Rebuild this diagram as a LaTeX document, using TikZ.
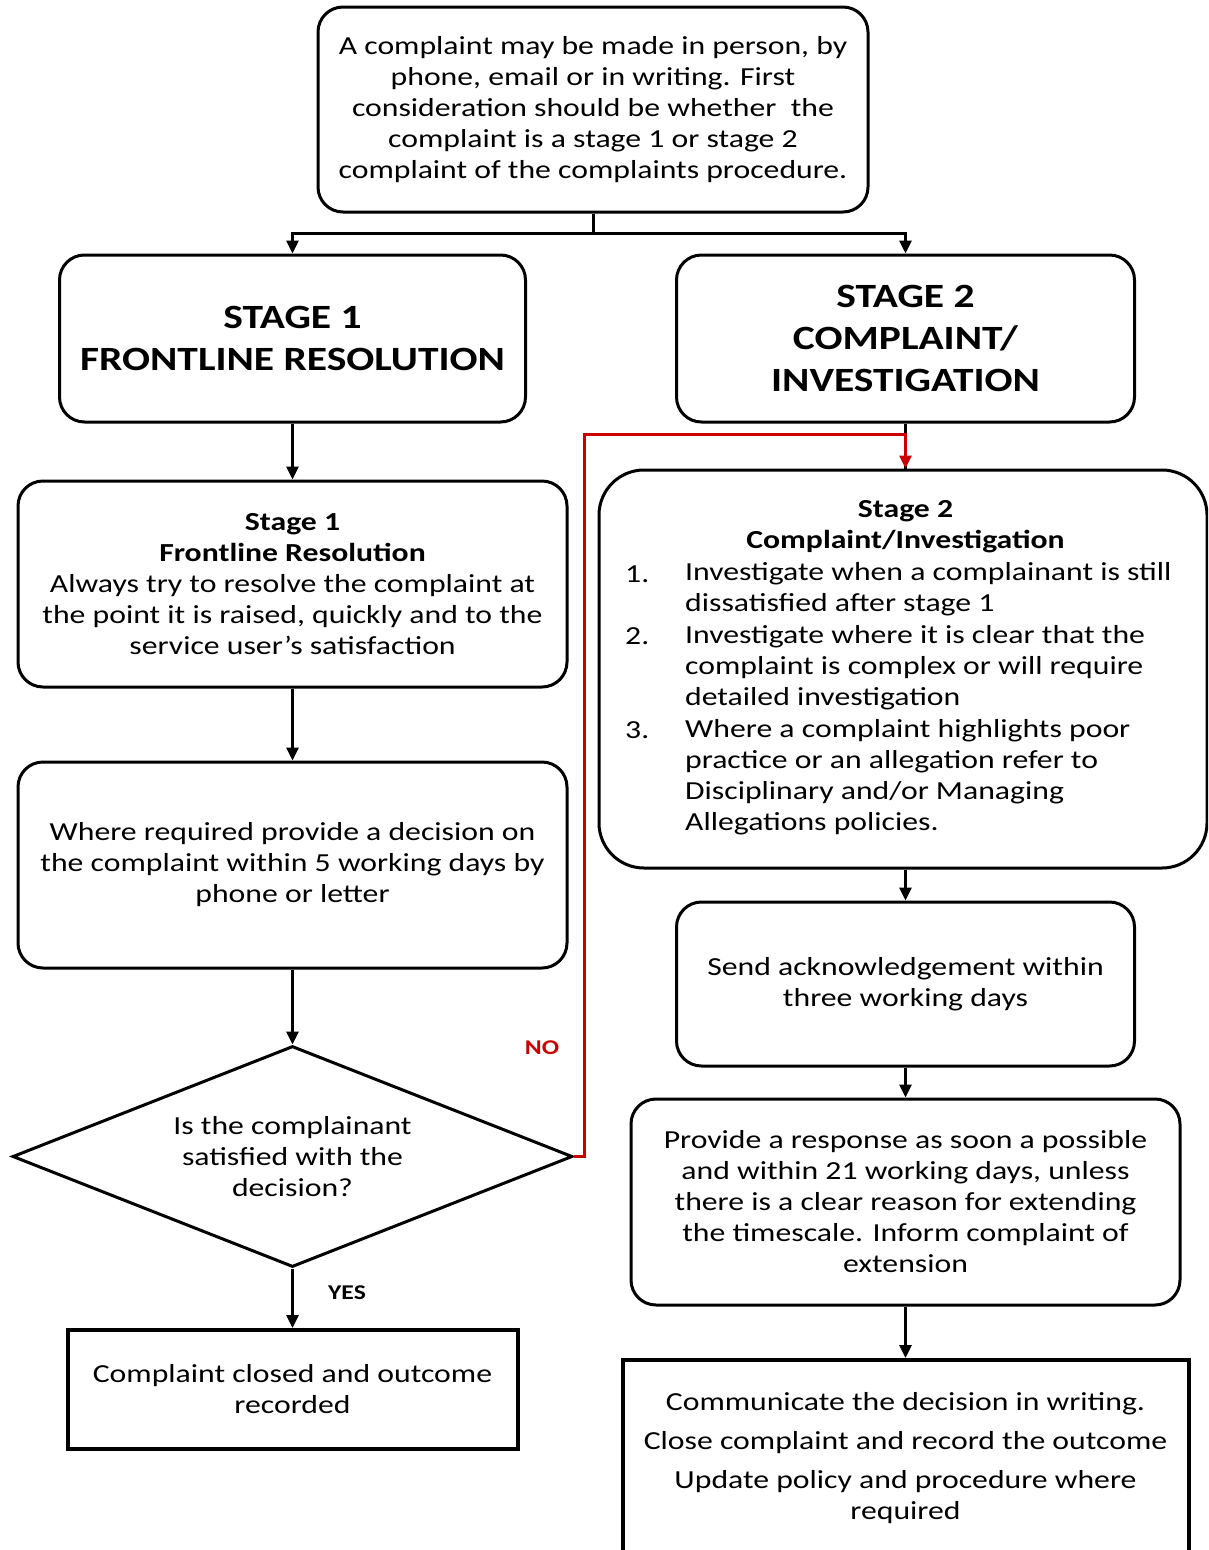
\documentclass[tikz,border=0pt]{standalone}
\usepackage{fontspec}
\setmainfont{Carlito}[FakeStretch=1.22]
\usetikzlibrary{arrows.meta,shapes.geometric}
\definecolor{noRed}{RGB}{204,0,0}
\begin{document}
\begin{tikzpicture}[x=1pt,y=-1pt,
  box/.style={draw,line width=3pt,rounded corners=25pt,inner sep=0pt,align=center},
  sqbox/.style={draw,line width=4pt,inner sep=0pt,align=center},
  txt/.style={font=\fontsize{26}{31}\selectfont},
  btxt/.style={font=\fontsize{26}{31}\selectfont\bfseries},
  ttl/.style={font=\fontsize{34}{42}\selectfont\bfseries},
  tip/.tip={Triangle[length=13pt,width=12pt]},
  arr/.style={line width=3pt,-tip},
  ln/.style={line width=3pt},
  redarr/.style={line width=3pt,draw=noRed,-tip},
  lbl/.style={font=\fontsize{21}{24}\selectfont\bfseries,inner sep=0pt}
]
\clip (0,0) rectangle (1208,1550);
\fill[white] (0,0) rectangle (1208,1550);

% top
\node[box,txt,minimum width=550pt,minimum height=205pt] (top) at (593,109.5)
 {A complaint may be made in person, by\\ phone, email or in writing. First\\ consideration should be whether\ \ the\\ complaint is a stage 1 or stage 2\\ complaint of the complaints procedure.};

% stage boxes
\node[box,ttl,minimum width=466pt,minimum height=167pt] (s1) at (292.5,338.5)
 {STAGE 1\\FRONTLINE RESOLUTION};
\node[box,ttl,minimum width=458pt,minimum height=167pt] (s2) at (905.5,338.5)
 {STAGE 2\\COMPLAINT/\\INVESTIGATION};

% left column
\node[box,txt,minimum width=549pt,minimum height=206pt] (l1) at (292.5,584)
 {\textbf{Stage 1}\\\textbf{Frontline Resolution}\\Always try to resolve the complaint at\\the point it is raised, quickly and to the\\service user’s satisfaction};
\node[box,txt,minimum width=549pt,minimum height=206pt] (l2) at (292.5,865)
 {Where required provide a decision on\\the complaint within 5 working days by\\phone or letter};
\node[draw,line width=3pt,diamond,shape aspect=2.53,minimum width=560pt,minimum height=221pt,inner sep=0pt,txt,align=center] (dia) at (292.5,1156.5)
 {Is the complainant\\satisfied with the\\decision?};
\node[sqbox,txt,minimum width=450pt,minimum height=119pt] (l3) at (292.5,1389.5)
 {Complaint closed and outcome\\recorded};

% right column
\node[draw,line width=3pt,rounded corners=45pt,minimum width=608pt,minimum height=398pt,inner sep=0pt] (r1) at (903,669) {};
\node[btxt,align=center,inner sep=0pt] (r1h) at (905.5,526.5) {Stage 2\\Complaint/Investigation};
\node[txt,anchor=west,inner sep=0pt] (n1) at (625,574) {1.};
\node[txt,anchor=west,inner sep=0pt] (n2) at (625,636) {2.};
\node[txt,anchor=west,inner sep=0pt] (n3) at (625,730) {3.};
\node[txt,anchor=west,align=left,inner sep=0pt] (i1) at (685,589.5)
 {Investigate when a complainant is still\\dissatisfied after stage 1};
\node[txt,anchor=west,align=left,inner sep=0pt] (i2) at (685,667.5)
 {Investigate where it is clear that the\\complaint is complex or will require\\detailed investigation};
\node[txt,anchor=west,align=left,inner sep=0pt] (i3) at (685,777)
 {Where a complaint highlights poor\\practice or an allegation refer to\\Disciplinary and/or Managing\\Allegations policies.};

\node[box,txt,minimum width=458pt,minimum height=164pt] (r2) at (905.5,984)
 {Send acknowledgement within\\three working days};
\node[box,txt,minimum width=549pt,minimum height=206pt] (r3) at (905.5,1202)
 {Provide a response as soon a possible\\and within 21 working days, unless\\there is a clear reason for extending\\the timescale. Inform complaint of\\extension};
\node[sqbox,txt,minimum width=566pt,minimum height=196pt] (r4) at (905.5,1458)
 {Communicate the decision in writing.\\[8pt]Close complaint and record the outcome\\[8pt]Update policy and procedure where\\required};

% connectors
\coordinate (j) at (593,233);
\draw[ln] (top.south) -- (j);
\draw[arr] (j) -| (s1.north);
\draw[arr] (j) -| (s2.north);
\draw[arr] (s1) -- (l1);
\draw[arr] (l1) -- (l2);
\draw[arr] (l2) -- (dia);
\draw[arr] (dia) -- (l3);
\draw[ln] (s2.south) -- (s2.south |- r1.north);
\draw[redarr] (dia.east) -| (584,434) -| (r1.north -| s2.south);
\draw[arr] (r1.south -| r2.north) -- (r2.north);
\draw[arr] (r2) -- (r3);
\draw[arr] (r3) -- (r4);

\node[lbl,text=noRed] (no) at (542,1048) {NO};
\node[lbl] (yes) at (347,1293) {YES};
\end{tikzpicture}
\end{document}
